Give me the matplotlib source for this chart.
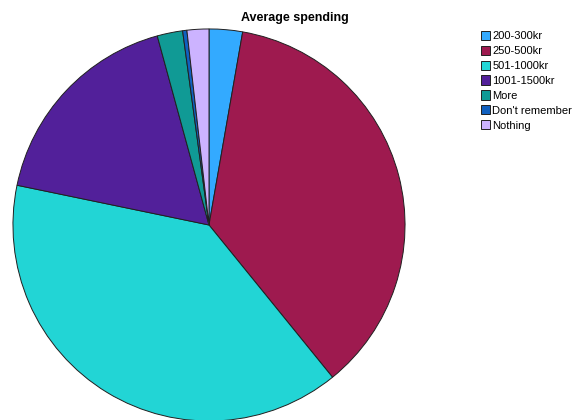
import matplotlib.pyplot as plt

plt.rcParams['font.family'] = ['Liberation Sans', 'DejaVu Sans']

labels = ["200-300kr", "250-500kr", "501-1000kr", "1001-1500kr", "More", "Don't remember", "Nothing"]
shares = [2.75, 36.4, 39.1, 17.5, 2.1, 0.35, 1.8]
colors = ["#33aaff", "#9e1a4f", "#22d5d5", "#52209a", "#109a95", "#1060c0", "#ccb3ff"]

fig = plt.figure(figsize=(5.72, 4.20), dpi=100)

# pie area: centre ~ (209, 225) px, radius ~198 px
ax = fig.add_axes([11 / 572, -3 / 420, 396 / 572, 396 / 420])
wedges, _ = ax.pie(shares, colors=colors, startangle=90, counterclock=False,
                   radius=1.0, wedgeprops=dict(edgecolor="#202020", linewidth=0.7))
ax.set_xlim(-1.01, 1.01)
ax.set_ylim(-1.01, 1.01)
ax.set_aspect("equal")
ax.axis("off")

fig.text(295 / 572, 1 - 18 / 420, "Average spending", ha="center", va="center",
         fontsize=9, fontweight="bold")

fig.legend(wedges, labels, loc="upper left", bbox_to_anchor=(473 / 572, 1 - 23 / 420),
           frameon=False, fontsize=8, handlelength=0.85, handleheight=0.9,
           handletextpad=0.2, labelspacing=0.4, borderpad=0.2)

fig.savefig("out.png", dpi=100)
